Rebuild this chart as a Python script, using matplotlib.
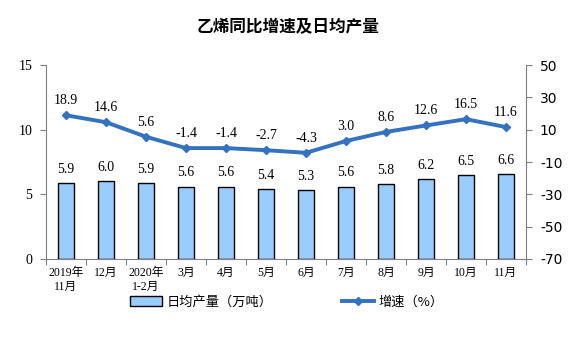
import matplotlib
matplotlib.use("Agg")
import matplotlib.pyplot as plt
import numpy as np
from matplotlib.patches import Patch
from matplotlib.lines import Line2D

categories = ["2019年\n11月", "12月", "2020年\n1-2月", "3月", "4月", "5月", "6月", "7月", "8月", "9月", "10月", "11月"]
output = [5.9, 6.0, 5.9, 5.6, 5.6, 5.4, 5.3, 5.6, 5.8, 6.2, 6.5, 6.6]
growth = [18.9, 14.6, 5.6, -1.4, -1.4, -2.7, -4.3, 3.0, 8.6, 12.6, 16.5, 11.6]
left_ticks = [0, 5, 10, 15]
right_ticks = [-70, -50, -30, -10, 10, 30, 50]

cjk = ["Noto Sans CJK SC", "DejaVu Sans"]
serif_cjk = ["Liberation Serif", "Noto Sans CJK SC"]
plt.rcParams['font.family'] = cjk

fig = plt.figure(figsize=(5.76, 3.38), dpi=100)
ax = fig.add_axes([46/576, 1-259/338, 480/576, (259-65)/338])
x = np.arange(len(categories))
bar_color = "#99CCFF"
line_color = "#3272C0"
ax.bar(x, output, width=0.41, color=bar_color, edgecolor="black", linewidth=1.0, zorder=2)
ax.set_xlim(-0.5, len(categories)-0.5)
ax.set_ylim(0, 15)
ax.set_yticks(left_ticks)
ax.set_yticklabels([str(t) for t in left_ticks], family="Liberation Serif", fontsize=10)
for xi, v in zip(x, output):
    ax.text(xi, v + 0.55, f"{v:.1f}", ha="center", va="bottom", fontsize=10, family="Liberation Serif")

ax.set_xticks(np.arange(-0.5, len(categories), 1.0))
ax.set_xticklabels([])
ax.set_xticks(x, minor=True)
ax.set_xticklabels(categories, minor=True, family=serif_cjk, fontsize=8.5, linespacing=1.15)
ax.tick_params(axis="x", which="minor", length=0, pad=6)
ax.tick_params(axis="x", which="major", length=4, color="#808080")
ax.tick_params(axis="y", length=4, color="#808080", pad=6)
for s in ["top", "right"]:
    ax.spines[s].set_visible(False)
for s in ["left", "bottom"]:
    ax.spines[s].set_color("#808080")

ax2 = ax.twinx()
ax2.plot(x, growth, color=line_color, linewidth=2.8, marker="D", markersize=4.5, zorder=3)
ax2.set_ylim(-70, 50)
ax2.set_yticks(right_ticks)
ax2.set_yticklabels([str(t) for t in right_ticks], family="DejaVu Sans", fontsize=10)
ax2.tick_params(axis="y", length=4, color="#808080", pad=6)
for s in ["top", "left", "bottom"]:
    ax2.spines[s].set_visible(False)
ax2.spines["right"].set_color("#808080")
for xi, v in zip(x, growth):
    ax2.text(xi, v + 5, f"{v:.1f}", ha="center", va="bottom", fontsize=10, family="Liberation Serif")

fig.text(0.5, 1-27/338, "乙烯同比增速及日均产量", ha="center", va="center", fontsize=12, fontweight="bold", family=cjk)

handles = [Patch(facecolor=bar_color, edgecolor="black", linewidth=1.0),
           Line2D([0], [0], color=line_color, linewidth=2.8, marker="D", markersize=4)]
fig.legend([handles[0]], ["日均产量（万吨）"], loc="center left", bbox_to_anchor=(118/576, 1-302/338),
           frameon=False, handlelength=2.4, handleheight=0.8, handletextpad=0.4, prop={"family": cjk, "size": 9.5})
fig.legend([handles[1]], ["增速（%）"], loc="center left", bbox_to_anchor=(330/576, 1-302/338),
           frameon=False, handlelength=2.4, handletextpad=0.4, prop={"family": cjk, "size": 9.5})

fig.savefig("out.png", dpi=100)
